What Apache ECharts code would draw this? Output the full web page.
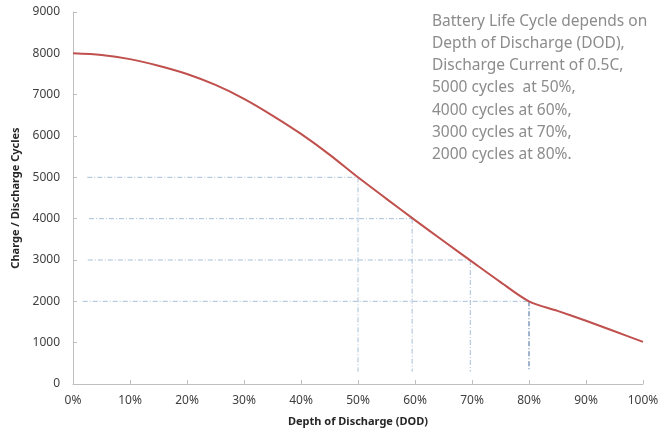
<!DOCTYPE html>
<html>
<head>
<meta charset="utf-8">
<script src="https://cdn.jsdelivr.net/npm/echarts@6/dist/echarts.min.js"></script>
<style>html,body{margin:0;padding:0;background:#fff}#c{width:672px;height:432px}</style>
</head>
<body>
<div id="c"></div>
<script>
// DOD (%) and cycles along the curve
var dod = [0, 5, 10, 15, 20, 25, 30, 35, 40, 45, 50, 55, 60, 65, 70, 75, 80, 85, 90, 95, 100];
var cycles = [8000, 7960, 7860, 7700, 7500, 7235, 6900, 6495, 6050, 5550, 5000, 4480, 3965, 3460, 2960, 2465, 2000, 1770, 1530, 1275, 1020];
// reference guide points
var guideDod = [50, 59.5, 69.7, 80];
var guideCycles = [5000, 4000, 3000, 2000];
var guideStart = [2.5, 2.8, 2.6, 1.7];
var guideBottom = [300, 300, 300, 350];
var yTicks = [0, 1000, 2000, 3000, 4000, 5000, 6000, 7000, 8000, 9000];
var noteLines = [
  'Battery Life Cycle depends on',
  'Depth of Discharge (DOD),',
  'Discharge Current of 0.5C,',
  '5000 cycles  at 50%,',
  '4000 cycles at 60%,',
  '3000 cycles at 70%,',
  '2000 cycles at 80%.'
];

var FONT = 'Noto Sans';
var chart = echarts.init(document.getElementById('c'));
var series = [];
guideDod.forEach(function (d, i) {
  series.push({
    type: 'line', silent: true, symbol: 'none', z: 1,
    data: [[guideStart[i], guideCycles[i]], [d, guideCycles[i]]],
    lineStyle: {color: '#a8bfd8', width: 1, type: [5, 2, 1, 2]}
  });
  series.push({
    type: 'line', silent: true, symbol: 'none', z: 1,
    data: [[d, guideCycles[i]], [d, guideBottom[i]]],
    lineStyle: {color: i === 3 ? '#7f9bbb' : '#a8bfd8', width: i === 3 ? 1.5 : 1, type: [5, 2, 1, 2]}
  });
});
series.push({
  type: 'line', symbol: 'none', smooth: 0.3, z: 3,
  data: dod.map(function (d, i) { return [d, cycles[i]]; }),
  lineStyle: {color: '#c0504d', width: 2}
});

chart.setOption({
  animation: false,
  grid: {left: 73, right: 29, top: 12, bottom: 48},
  xAxis: {
    type: 'value', min: 0, max: 100, interval: 10,
    name: 'Depth of Discharge (DOD)', nameLocation: 'middle', nameGap: 32,
    nameTextStyle: {fontFamily: FONT, fontWeight: 'bold', fontSize: 11, color: '#262626'},
    axisLine: {show: true, lineStyle: {color: '#bfbfbf'}},
    axisTick: {show: true, inside: true, length: 4, lineStyle: {color: '#bfbfbf'}},
    splitLine: {show: false},
    axisLabel: {formatter: '{value}%', fontFamily: FONT, fontSize: 12, color: '#404040', margin: 11}
  },
  yAxis: {
    type: 'value', min: 0, max: 9000, interval: 1000,
    name: 'Charge / Discharge Cycles', nameLocation: 'middle', nameGap: 52,
    nameTextStyle: {fontFamily: FONT, fontWeight: 'bold', fontSize: 11, color: '#262626'},
    axisLine: {show: true, lineStyle: {color: '#bfbfbf'}},
    axisTick: {show: true, inside: true, length: 4, lineStyle: {color: '#bfbfbf'}},
    splitLine: {show: false},
    axisLabel: {
      fontFamily: FONT, fontSize: 12, color: '#404040', margin: 13,
      formatter: function (v) { return yTicks.indexOf(v) >= 0 ? String(v) : ''; }
    }
  },
  graphic: [{
    type: 'text', left: 432, top: 10,
    style: {text: noteLines.join('\n'), fontFamily: FONT, fontSize: 15.5, lineHeight: 22.3, fill: '#8c8c8c'}
  }],
  series: series
});
</script>
</body>
</html>
